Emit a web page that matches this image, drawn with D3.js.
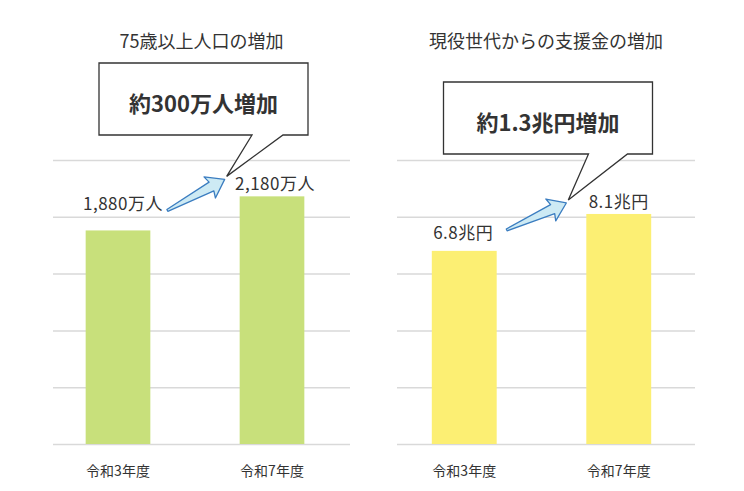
<html>
<head>
<meta charset="utf-8">
<script src="https://d3js.org/d3.v7.min.js"></script>
<style>
body { margin: 0; background: #fff; }
svg { display: block; }
text { font-family: "Noto Sans CJK JP", "Noto Sans", sans-serif; fill: #333; }
</style>
</head>
<body>
<svg></svg>
<script>

var width = 744;
var height = 491;

// Data
var categories = ["令和3年度", "令和7年度"];

var popValues = [1880, 2180];
var popLabels = ["1,880万人", "2,180万人"];
var popTicks = [0, 500, 1000, 1500, 2000, 2500];

var fundValues = [6.8, 8.1];
var fundLabels = ["6.8兆円", "8.1兆円"];
var fundTicks = [0, 2, 4, 6, 8, 10];

var titles = ["75歳以上人口の増加", "現役世代からの支援金の増加"];
var calloutTexts = ["約300万人増加", "約1.3兆円増加"];

// Layout of the two panels
var baseY = 444;
var topY = 160;

var panels = [
	{ values: popValues, labels: popLabels, ticks: popTicks, title: titles[0], callout: calloutTexts[0],
	  gx0: 53, gx1: 350, bx0: 41, bx1: 349, color: "#c8e07b",
	  labelDy: [28, 14], labelDx: [5, 3], boxTop: 63, tailBase: [153, 184],
	  arrowGap: [17, 15], arrowDy: [20, 17] },
	{ values: fundValues, labels: fundLabels, ticks: fundTicks, title: titles[1], callout: calloutTexts[1],
	  gx0: 397, gx1: 695, bx0: 387, bx1: 696, color: "#fcef73",
	  labelDy: [19, 13], labelDx: [-1, 0], boxTop: 82, tailBase: [145, 184],
	  arrowGap: [10, 20], arrowDy: [21, 11] }
];

var svg = d3.select("svg").attr("width", width).attr("height", height);

panels.forEach(function (p) {
	var g = svg.append("g");

	var x = d3.scaleBand().domain(categories).range([p.bx0, p.bx1])
		.paddingInner(0.58).paddingOuter(0.29);
	var y = d3.scaleLinear().domain([0, d3.max(p.ticks)]).range([baseY, topY]);

	// gridlines
	var grid = g.append("g")
		.attr("transform", "translate(" + p.gx0 + ",0)")
		.call(d3.axisLeft(y).tickValues(p.ticks).tickSize(-(p.gx1 - p.gx0)).tickFormat(""));
	grid.select(".domain").remove();
	grid.selectAll("line").attr("stroke", "#d9d9d9").attr("stroke-width", 1.5);

	// bars
	g.selectAll("rect.bar").data(p.values).enter().append("rect")
		.attr("class", "bar")
		.attr("x", function (d, i) { return x(categories[i]); })
		.attr("width", x.bandwidth())
		.attr("y", function (d) { return y(d); })
		.attr("height", function (d) { return baseY - y(d); })
		.attr("fill", p.color);

	// value labels
	g.selectAll("text.val").data(p.values).enter().append("text")
		.attr("class", "val")
		.attr("x", function (d, i) { return x(categories[i]) + x.bandwidth() / 2 + p.labelDx[i]; })
		.attr("y", function (d, i) { return y(d) - p.labelDy[i]; })
		.attr("text-anchor", "middle")
		.attr("dominant-baseline", "central")
		.style("font-size", "17px")
		.style("letter-spacing", "0.5px")
		.text(function (d, i) { return p.labels[i]; });

	// category labels
	g.selectAll("text.cat").data(categories).enter().append("text")
		.attr("class", "cat")
		.attr("x", function (d) { return x(d) + x.bandwidth() / 2; })
		.attr("y", baseY + 26)
		.attr("text-anchor", "middle")
		.attr("dominant-baseline", "central")
		.style("font-size", "14px")
		.text(function (d) { return d; });

	// title
	var cx = (p.gx0 + p.gx1) / 2;
	g.append("text")
		.attr("x", cx).attr("y", 40)
		.attr("text-anchor", "middle")
		.attr("dominant-baseline", "central")
		.style("font-size", "18px")
		.text(p.title);

	// fat arrow between the two value labels
	var ax0 = x(categories[0]) + x.bandwidth() + p.arrowGap[0];
	var ay0 = y(p.values[0]) - p.arrowDy[0];
	var ax1 = x(categories[1]) - p.arrowGap[1];
	var ay1 = y(p.values[1]) - p.arrowDy[1];
	var L = Math.hypot(ax1 - ax0, ay1 - ay0);
	var ang = Math.atan2(ay1 - ay0, ax1 - ax0) * 180 / Math.PI;
	var pts = [[0, -1], [L - 15, -5], [L - 17, -12], [L, 0], [L - 17, 12], [L - 15, 5], [0, 1]];
	g.append("path")
		.attr("transform", "translate(" + ax0 + "," + ay0 + ") rotate(" + ang + ")")
		.attr("d", d3.line()(pts) + "Z")
		.attr("fill", "#cdeaf4")
		.attr("stroke", "#3b7dc0")
		.attr("stroke-width", 1.3)
		.attr("stroke-linejoin", "round");

	// speech-bubble callout
	var bw = 209, bh = 72;
	var bx = cx + 2 - bw / 2;
	var by = p.boxTop;
	var tipX = ax1 + 2, tipY = ay1 - 3;
	var bubble = [
		[bx, by], [bx + bw, by], [bx + bw, by + bh],
		[bx + p.tailBase[1], by + bh], [tipX, tipY], [bx + p.tailBase[0], by + bh],
		[bx, by + bh]
	];
	g.append("path")
		.attr("d", d3.line()(bubble) + "Z")
		.attr("fill", "#fff")
		.attr("stroke", "#333")
		.attr("stroke-width", 1.3);

	g.append("text")
		.attr("x", bx + bw / 2).attr("y", by + 39)
		.attr("text-anchor", "middle")
		.attr("dominant-baseline", "central")
		.style("font-size", "22px")
		.style("font-weight", "bold")
		.text(p.callout);
});

</script>
</body>
</html>
